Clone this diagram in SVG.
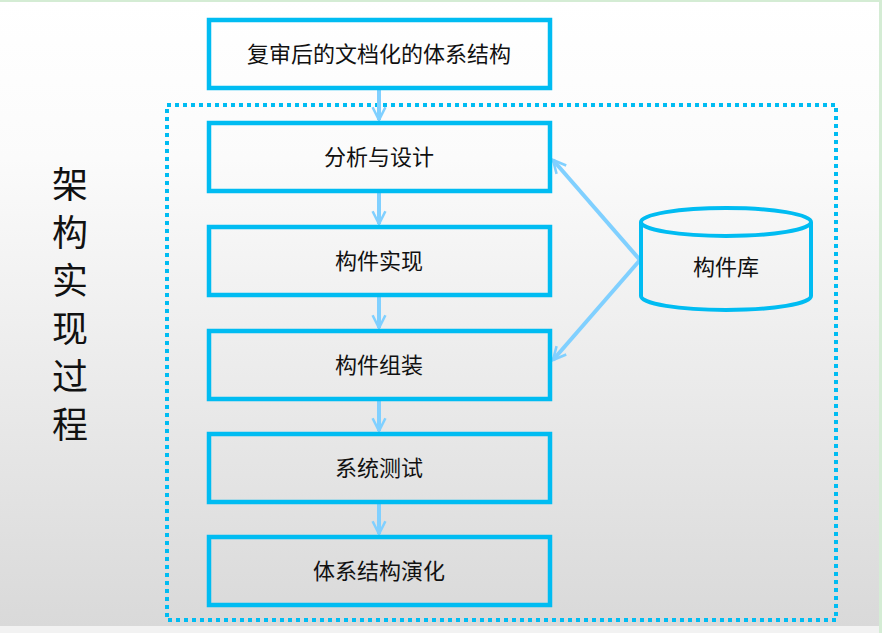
<svg xmlns="http://www.w3.org/2000/svg" width="882" height="633" viewBox="0 0 882 633">
<defs>
<linearGradient id="bg" x1="0" y1="0" x2="0" y2="1"><stop offset="0" stop-color="#ffffff"/><stop offset="0.25" stop-color="#fbfbfb"/><stop offset="1" stop-color="#d9d9d9"/></linearGradient>
<marker id="ah" viewBox="0 0 10 10" refX="9" refY="5" markerWidth="4" markerHeight="4" orient="auto-start-reverse" markerUnits="strokeWidth"><path d="M1,1 L9,5 L1,9" fill="none" stroke="#80d0ff" stroke-width="1.6"/></marker>
<style>
.box{fill:none;stroke:#00bcf2;stroke-width:4.5}
.t{font-family:"Noto Sans CJK SC","Liberation Sans",sans-serif;font-size:22px;fill:#111;text-anchor:middle}
.c{stroke:#80d0ff;stroke-width:4;fill:none;marker-end:url(#ah)}
</style>
</defs>
<rect width="882" height="633" fill="#d4ecd4"/>
<rect x="0" y="2" width="879" height="624" fill="url(#bg)"/>
<rect x="0" y="626" width="879" height="7" fill="#f2f2f2"/>
<rect x="167" y="105" width="669" height="515" fill="none" stroke="#00bcf2" stroke-width="4" stroke-dasharray="4,4"/>
<text font-family="Noto Sans CJK SC,Liberation Sans,sans-serif" font-size="36" fill="#111" text-anchor="middle"><tspan x="70" y="198">架</tspan><tspan x="70" y="246">构</tspan><tspan x="70" y="294">实</tspan><tspan x="70" y="342">现</tspan><tspan x="70" y="390">过</tspan><tspan x="70" y="438">程</tspan></text>
<g id="connectors">
<line class="c" x1="379" y1="88" x2="379" y2="120"/>
<line class="c" x1="379" y1="191" x2="379" y2="224"/>
<line class="c" x1="379" y1="295" x2="379" y2="328"/>
<line class="c" x1="379" y1="399" x2="379" y2="431"/>
<line class="c" x1="379" y1="502" x2="379" y2="534"/>
<polyline class="c" points="640,260 553,160" marker-end="url(#ah)"/>
<polyline class="c" points="640,260 553,360"/>
</g>
<g id="n1"><rect class="box" x="209" y="20" width="341" height="68"/><text class="t" x="379" y="62">复审后的文档化的体系结构</text></g>
<g id="n2"><rect class="box" x="209" y="123" width="341" height="68"/><text class="t" x="379" y="165">分析与设计</text></g>
<g id="n3"><rect class="box" x="209" y="227" width="341" height="68"/><text class="t" x="379" y="269">构件实现</text></g>
<g id="n4"><rect class="box" x="209" y="331" width="341" height="68"/><text class="t" x="379" y="373">构件组装</text></g>
<g id="n5"><rect class="box" x="209" y="434" width="341" height="68"/><text class="t" x="379" y="476">系统测试</text></g>
<g id="n6"><rect class="box" x="209" y="537" width="341" height="68"/><text class="t" x="379" y="579">体系结构演化</text></g>
<g id="lib"><path d="M641,222 L641,296 A85,14 0 0 0 811,296 L811,222" fill="none" stroke="#00bcf2" stroke-width="4"/><ellipse cx="726" cy="222" rx="85" ry="14" fill="none" stroke="#00bcf2" stroke-width="4"/><text class="t" x="726" y="275">构件库</text></g>
</svg>
